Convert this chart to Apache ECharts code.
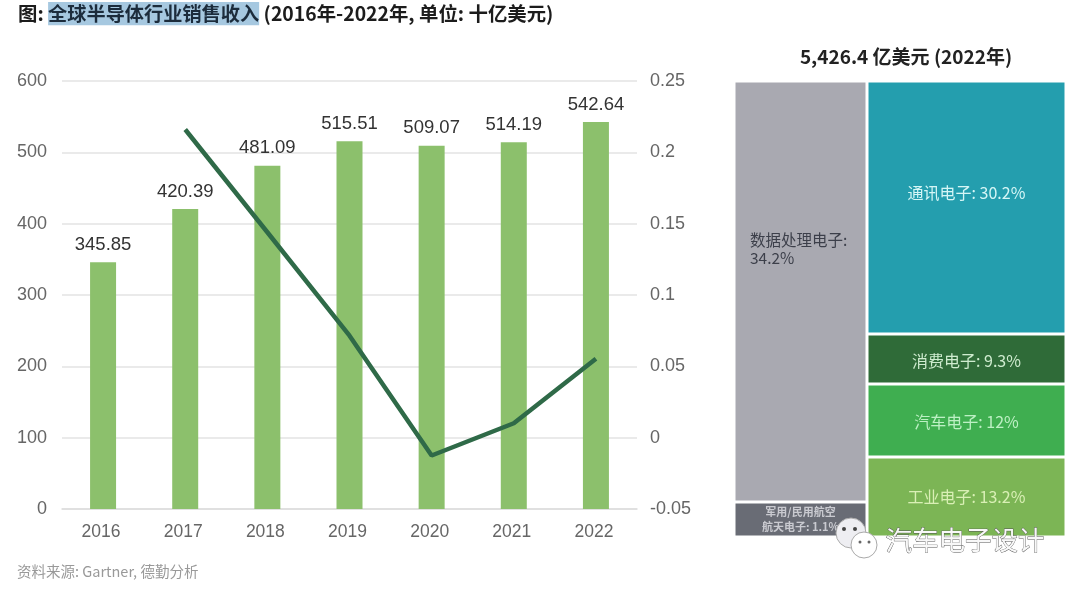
<!DOCTYPE html>
<html><head><meta charset="utf-8">
<style>html,body{margin:0;padding:0;background:#fff}#c{width:1080px;height:589px}</style>
<script src="https://cdn.jsdelivr.net/npm/echarts@6/dist/echarts.min.js"></script>
</head><body><div id="c"></div>
<script>
const years = ['2016','2017','2018','2019','2020','2021','2022'];
const revenue = [345.85,420.39,481.09,515.51,509.07,514.19,542.64];
const growth = [null,0.216,0.144,0.0715,-0.0125,0.0101,0.0553];
const leftLabels = ['军用/民用航空\n航天电子: 1.1%','数据处理电子:\n34.2%'];
const leftHeights = [35,421];
const rightLabels = ['工业电子: 13.2%','汽车电子: 12%','消费电子: 9.3%','通讯电子: 30.2%'];
const rightHeights = [80,73,50,253];
const leftColors = ['#696c75','#a9a9b1'];
const rightColors = ['#7cb555','#3fae50','#2f6b38','#249eae'];
const rightText = ['#d9efb5','#bdf0c4','#cfeccf','#d5f6f6'];
const FONT = '"Noto Sans CJK SC","Liberation Sans",sans-serif';
const LATIN = '"Liberation Sans",sans-serif';
const chart = echarts.init(document.getElementById('c'));
function blocks(labels, heights, colors, textColors, axisIndex, stack, extra){
  return labels.map((t,i)=>({
    type:'bar', stack, xAxisIndex:axisIndex, yAxisIndex:axisIndex+1, barWidth:'100%', silent:true,
    data:[heights[i]],
    itemStyle:{color:colors[i],borderColor:'#fff',borderWidth:1.5},
    label:Object.assign({show:true,formatter:t,position:'inside',fontFamily:FONT,color:textColors[i],fontSize:16,lineHeight:18},(extra&&extra[i])||{})
  }));
}
chart.setOption({
  animation:false,
  backgroundColor:'#fff',
  title:[
    {left:13,top:-3,text:'{a|图: }{h|全球半导体行业销售收入}{a| (2016年-2022年, 单位: 十亿美元)}',
     textStyle:{rich:{a:{fontFamily:FONT,fontWeight:'bold',fontSize:19.4,color:'#1c1c1c'},
       h:{fontFamily:FONT,fontWeight:'bold',fontSize:19.2,color:'#1c2c3c',backgroundColor:'#a6c8e0',padding:[2,0,2,0]}}}},
    {left:901,top:42,textAlign:'center',text:'5,426.4 亿美元 (2022年)',
     textStyle:{fontFamily:FONT,fontWeight:'bold',fontSize:19,color:'#222'}},
    {left:12,top:559,text:'资料来源: Gartner, 德勤分析',textStyle:{fontFamily:FONT,fontWeight:'normal',fontSize:14.5,color:'#999'}}
  ],
  grid:[
    {left:62,right:443,top:81,bottom:80},
    {left:734,width:133,top:81,height:456},
    {left:867,width:199,top:81,height:456}
  ],
  xAxis:[
    {type:'category',gridIndex:0,data:years,axisTick:{show:false},axisLine:{lineStyle:{color:'#ddd',width:1.5}},
     axisLabel:{color:'#666',fontSize:17.5,margin:14,padding:[0,4,0,0],fontFamily:LATIN}},
    {type:'category',gridIndex:1,data:['a'],show:false},
    {type:'category',gridIndex:2,data:['b'],show:false}
  ],
  yAxis:[
    {type:'value',gridIndex:0,min:0,max:600,interval:100,axisLine:{show:false},axisTick:{show:false},
     splitLine:{lineStyle:{color:'#e3e3e3',width:1.5}},
     axisLabel:{color:'#666',fontSize:18,margin:15,padding:[3,0,0,0],fontFamily:LATIN}},
    {type:'value',gridIndex:0,min:-0.05,max:0.25,interval:0.05,position:'right',axisLine:{show:false},axisTick:{show:false},splitLine:{show:false},
     axisLabel:{color:'#666',fontSize:18,margin:13,padding:[3,0,0,0],fontFamily:LATIN,
       formatter:v=>String(Math.round(v*100)/100)}},
    {type:'value',gridIndex:1,min:0,max:456,show:false},
    {type:'value',gridIndex:2,min:0,max:456,show:false}
  ],
  series:[
    {type:'bar',name:'销售收入',data:revenue,barWidth:26,itemStyle:{color:'#8cc06c'},
     label:{show:true,position:'top',distance:8,color:'#333',fontSize:18.5,fontFamily:LATIN,formatter:p=>p.value.toFixed(2)}},
    {type:'line',name:'增长率',yAxisIndex:1,data:growth,symbol:'none',connectNulls:false,
     lineStyle:{color:'#2f6a48',width:4.5}},
    ...blocks(leftLabels,leftHeights,leftColors,['#c9cad0','#3c3f4a'],1,'L',
      [{fontSize:11,lineHeight:15,fontWeight:'bold'},{position:[16,150],align:'left',fontSize:15.5}]),
    ...blocks(rightLabels,rightHeights,rightColors,rightText,2,'R',
      [{},{offset:[0,1]},{offset:[0,2]},{offset:[0,-15]}])
  ],
  graphic:[
    {type:'circle',shape:{cx:851,cy:533,r:15},style:{fill:'#eeeef2',stroke:'#aaa',lineWidth:1},z:50},
    {type:'circle',shape:{cx:864,cy:545,r:13},style:{fill:'#ffffff',stroke:'#aaa',lineWidth:1},z:51},
    {type:'circle',shape:{cx:844,cy:529,r:2},style:{fill:'#444'},z:52},
    {type:'circle',shape:{cx:855,cy:529,r:2},style:{fill:'#444'},z:52},
    {type:'circle',shape:{cx:860,cy:542,r:1.5},style:{fill:'#666'},z:52},
    {type:'circle',shape:{cx:869,cy:542,r:1.5},style:{fill:'#666'},z:52},
    {type:'text',left:885,top:526,z:50,style:{text:'汽车电子设计',font:'26.5px "Noto Sans CJK SC"',fill:'#f8f8f8',stroke:'#555',lineWidth:0.8,shadowBlur:2,shadowColor:'rgba(0,0,0,.6)',shadowOffsetX:1,shadowOffsetY:1}}
  ]
});
</script></body></html>
